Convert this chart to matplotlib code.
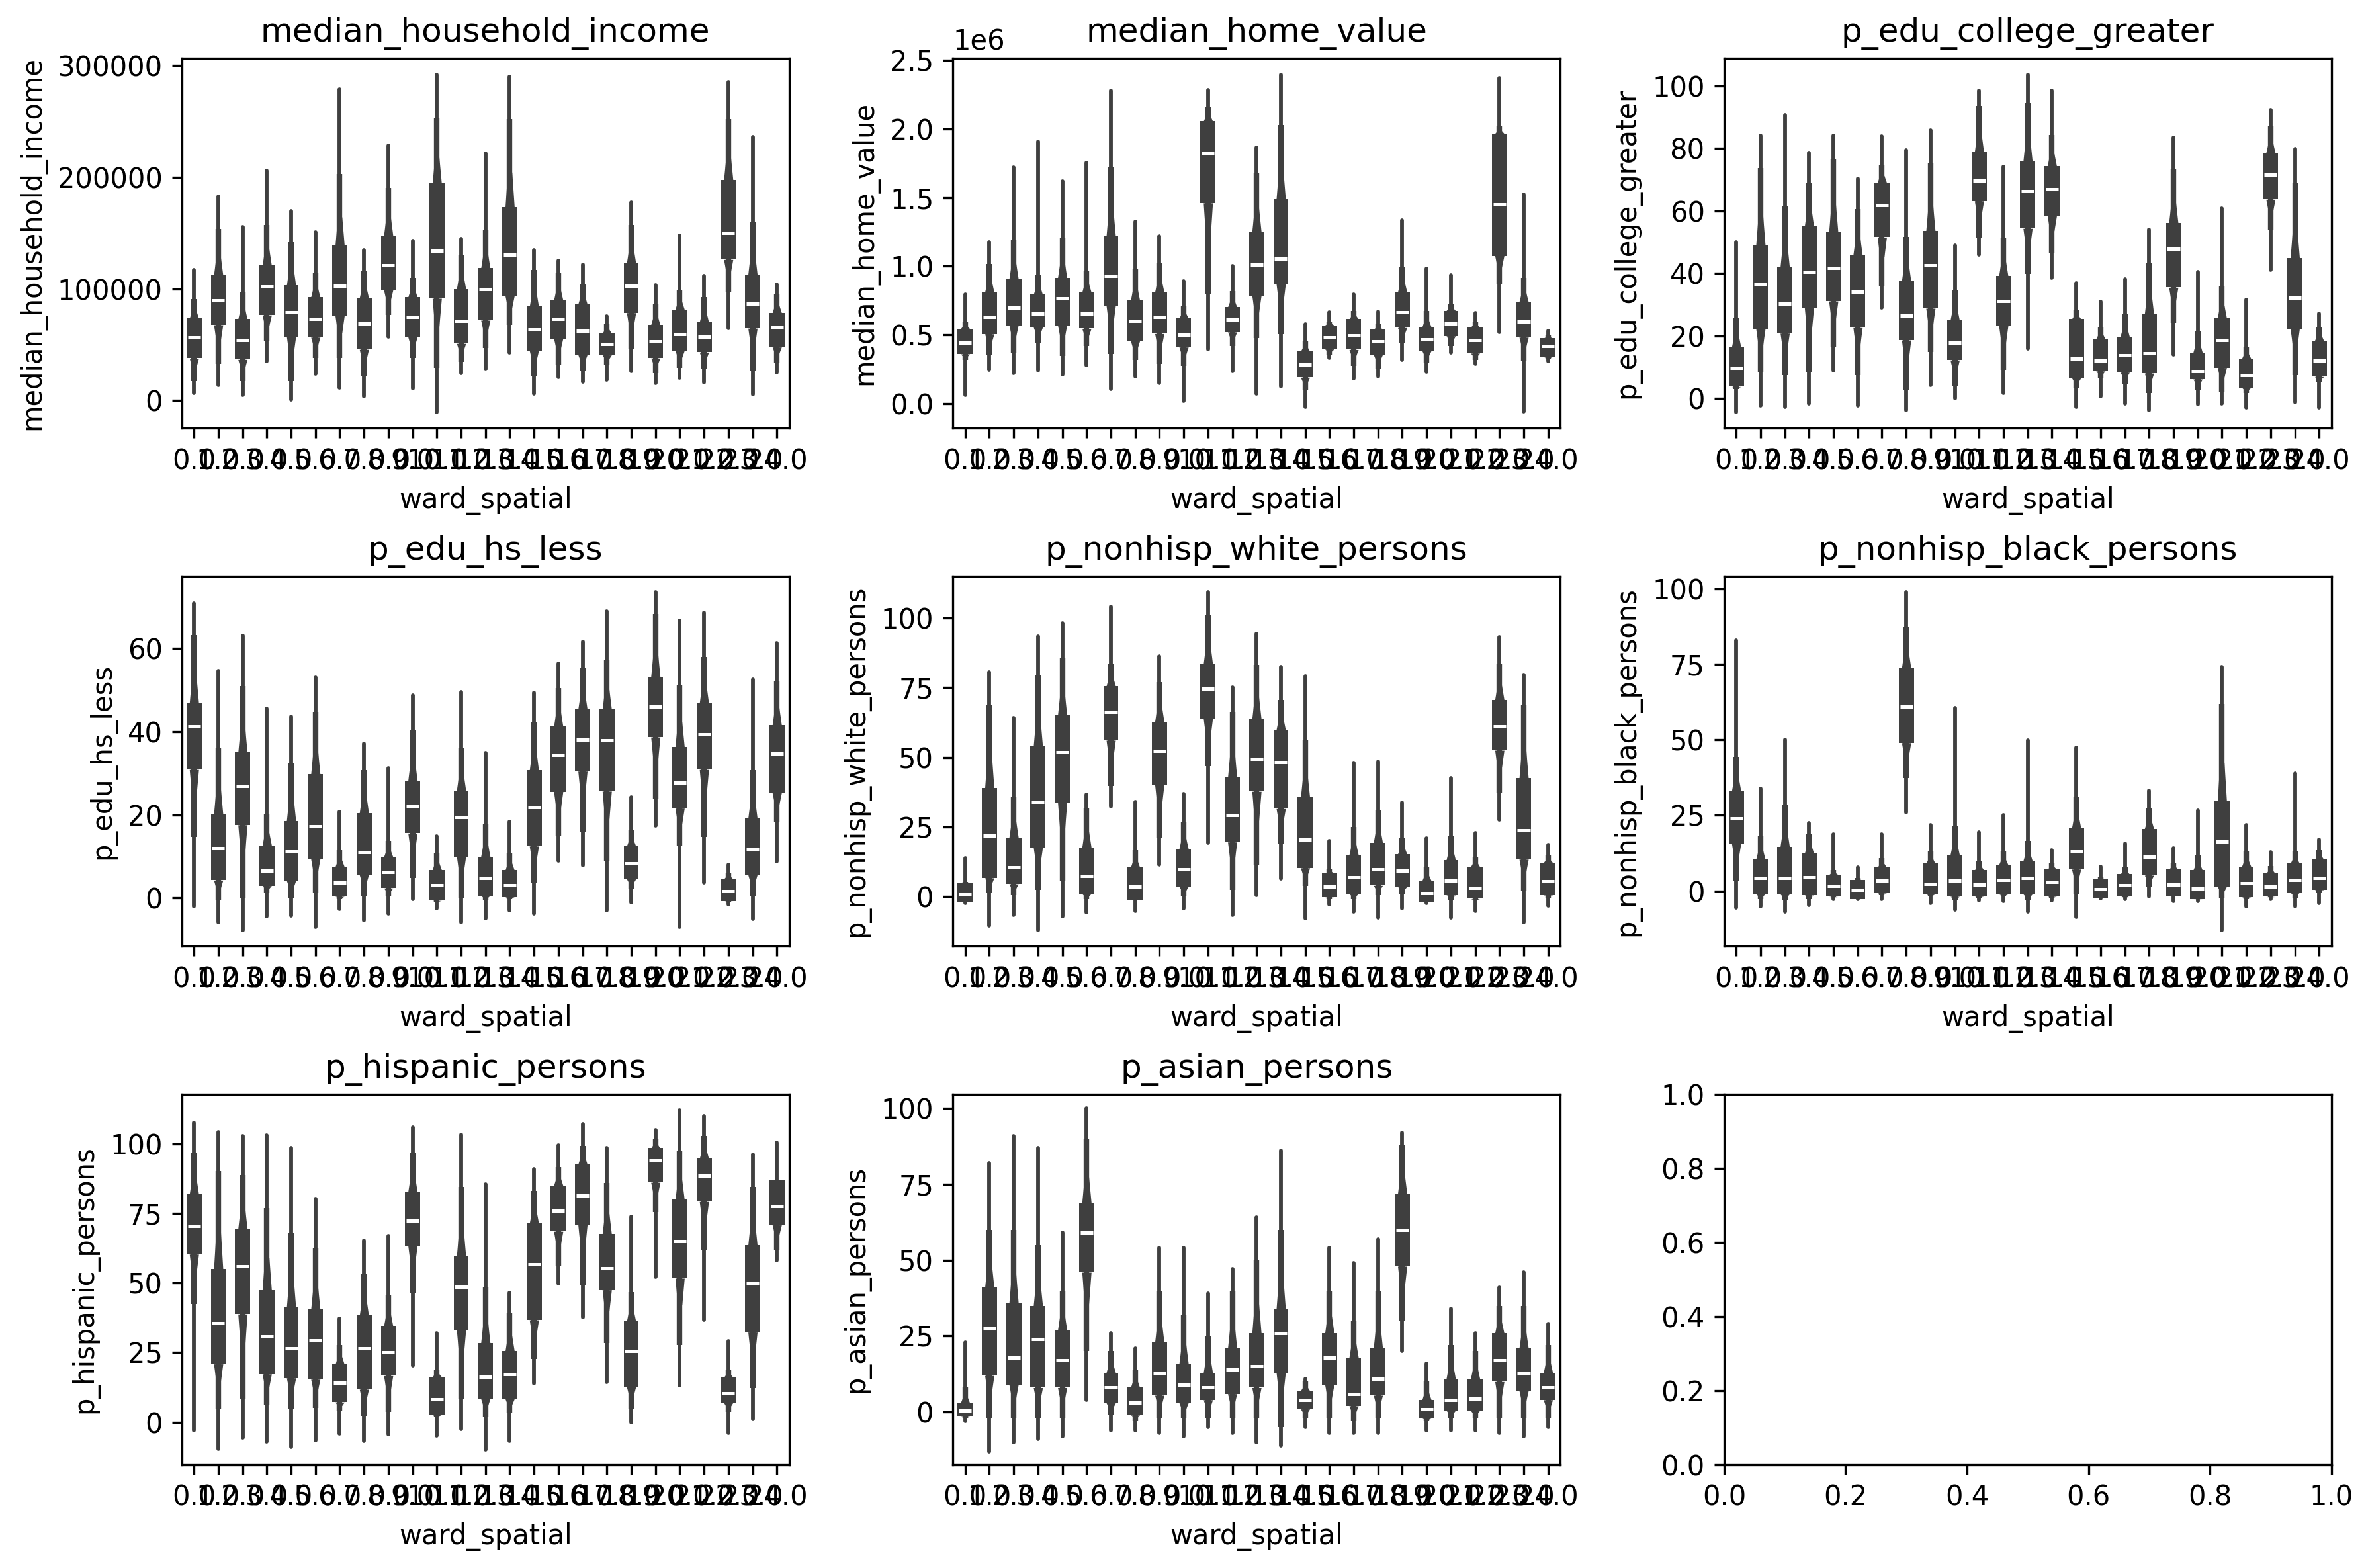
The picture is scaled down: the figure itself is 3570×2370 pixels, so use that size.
import matplotlib
matplotlib.use("Agg")
import matplotlib.pyplot as plt
import numpy as np
from matplotlib.ticker import MultipleLocator

GRAY = "#3f3f3f"

wards = [0.0, 1.0, 2.0, 3.0, 4.0, 5.0, 6.0, 7.0, 8.0, 9.0, 10.0, 11.0, 12.0,
         13.0, 14.0, 15.0, 16.0, 17.0, 18.0, 19.0, 20.0, 21.0, 22.0, 23.0, 24.0]

# per ward: violin tail ends (lo/hi), whisker ends (wlo/whi), quartiles and median
# median_household_income, in thousands
inc_hi = [117, 183, 155.6, 206, 170, 151, 279, 134.7, 228.5, 142.8, 292, 144.7, 221.5, 290, 134.8, 125, 121.5, 75.4, 177.5, 103, 147.7, 111.7, 285.5, 236, 104]
inc_whi = [91, 153.9, 96.8, 157.4, 142, 114, 203, 115.7, 190.3, 110, 252.8, 130, 152.8, 252, 117, 114, 104.6, 69, 157.5, 86.2, 98.5, 92.3, 252.3, 160, 95.4]
inc_q3 = [73.4, 112.3, 72.9, 120.8, 103, 92.6, 138.7, 91.9, 147.7, 92.6, 194.4, 100, 118.5, 173, 84, 89.8, 86.2, 60, 123, 67.7, 81.5, 70.2, 197.8, 113, 78.5]
inc_med = [56.2, 89.6, 53.9, 101.9, 79.2, 73.1, 102.8, 69, 120.8, 74.8, 134.3, 71.3, 99.5, 130.8, 63.7, 72.9, 62.2, 50.2, 102.5, 52.9, 59.1, 56.9, 150.2, 86.8, 65.8]
inc_q1 = [37.7, 67.6, 36.6, 76.4, 57.2, 56.5, 75.9, 45.6, 98.8, 56.7, 91.4, 50.9, 71.8, 93.8, 44.6, 55.4, 40.9, 40.6, 78.5, 37.8, 44.6, 43.1, 126.2, 64.6, 47.7]
inc_wlo = [17.4, 32.9, 17.4, 52.8, 17.4, 37.7, 37.7, 22, 76.4, 37.7, 28.9, 34.7, 47, 67.7, 21.5, 32.3, 26.2, 32.3, 46.2, 24.6, 29.2, 27.7, 97, 26.2, 33.8]
inc_lo = [6.5, 13.9, 4.6, 35.2, 0.5, 23.6, 11.1, 3.5, 56.7, 10.4, -10.9, 24.3, 27.8, 43, 6.2, 20.9, 16.9, 18.5, 26.2, 15.4, 20, 16, 64.6, 5.5, 25.2]

# median_home_value, in millions
home_hi = [0.796, 1.176, 1.72, 1.906, 1.616, 1.752, 2.276, 1.326, 1.216, 0.89, 2.282, 1.0, 1.866, 2.396, 0.576, 0.666, 0.792, 0.67, 1.336, 0.98, 0.932, 0.66, 2.372, 1.522, 0.53]
home_whi = [0.596, 1.016, 1.196, 0.936, 1.206, 0.966, 1.726, 0.976, 1.02, 0.706, 2.156, 0.816, 1.676, 2.026, 0.456, 0.596, 0.676, 0.576, 0.996, 0.676, 0.726, 0.596, 2.016, 0.916, 0.496]
home_q3 = [0.544, 0.81, 0.908, 0.792, 0.916, 0.81, 1.22, 0.75, 0.812, 0.622, 2.056, 0.702, 1.252, 1.49, 0.38, 0.57, 0.616, 0.54, 0.812, 0.556, 0.676, 0.556, 1.966, 0.74, 0.476]
home_med = [0.44, 0.632, 0.696, 0.652, 0.764, 0.652, 0.93, 0.602, 0.628, 0.5, 1.822, 0.612, 1.01, 1.056, 0.284, 0.482, 0.496, 0.452, 0.666, 0.466, 0.584, 0.46, 1.45, 0.596, 0.416]
home_q1 = [0.36, 0.506, 0.57, 0.556, 0.57, 0.546, 0.712, 0.456, 0.508, 0.41, 1.46, 0.52, 0.786, 0.87, 0.19, 0.396, 0.392, 0.356, 0.552, 0.384, 0.492, 0.366, 1.076, 0.482, 0.34]
home_wlo = [0.316, 0.356, 0.366, 0.436, 0.346, 0.416, 0.36, 0.316, 0.286, 0.276, 0.796, 0.416, 0.476, 0.506, 0.096, 0.356, 0.276, 0.256, 0.436, 0.296, 0.416, 0.316, 0.866, 0.306, 0.326]
home_lo = [0.06, 0.246, 0.22, 0.24, 0.212, 0.28, 0.106, 0.196, 0.146, 0.02, 0.392, 0.236, 0.07, 0.126, -0.024, 0.332, 0.18, 0.196, 0.316, 0.232, 0.372, 0.286, 0.52, -0.06, 0.306]

col_hi = [49.9, 84.2, 90.7, 78.6, 84.2, 70.3, 83.9, 79.5, 85.9, 49, 98.6, 74.2, 103.7, 98.6, 36.9, 30.9, 38.2, 54, 83.5, 40.5, 60.8, 31.6, 92.5, 79.9, 27.2]
col_whi = [25.9, 73.8, 61.5, 69, 76.4, 60.6, 74.7, 51.8, 75.5, 34.7, 93.6, 51.4, 94.5, 84.3, 28.1, 22.8, 27.2, 43.4, 73.4, 21.5, 36, 16.6, 87, 69, 22.8]
col_q3 = [16.4, 49.2, 42.1, 55.1, 53.1, 45.9, 69.1, 37.6, 53.6, 25, 78.9, 39.2, 75.9, 74.4, 25.4, 19, 19.7, 27, 56.2, 14.7, 25.6, 12.7, 78.6, 45, 18.4]
col_med = [9.6, 36.4, 30.3, 40.5, 41.7, 34.2, 61.9, 26.5, 42.5, 17.7, 69.8, 31.2, 66.3, 67, 12.7, 12, 13.8, 14.4, 47.8, 8.7, 18.6, 7.3, 71.6, 32.2, 12]
col_q1 = [3.7, 22.2, 20.8, 28.9, 31.1, 22.6, 51.6, 18.6, 28.8, 12.2, 63.2, 23.2, 54.4, 58.4, 6.5, 8.7, 8.3, 8, 35.5, 6.1, 9.8, 3.4, 63.7, 22.3, 6.9]
col_wlo = [3, 8.3, 7.4, 8.3, 16.6, 7.4, 36, 2.6, 14.9, 3.9, 51.4, 9.1, 39.9, 46.5, 3.4, 6.5, 4.7, 1.7, 24.1, 2.6, 2.1, 1.7, 54, 7.4, 5.2]
col_lo = [-4.5, -2.3, -2.7, -1.7, 8.9, -2.3, 29.1, -3.8, 4.3, -0.1, 45.9, 1.7, 15.9, 38.6, -2.7, 0.6, -1.8, -3.8, 14, -2, -1.8, -2.9, 41.2, -1.4, -2.9]

hs_hi = [70.8, 54.7, 63.1, 45.6, 43.6, 53, 20.8, 37.1, 31.3, 48.8, 14.8, 49.5, 34.9, 18.4, 49.4, 56.4, 61.7, 69, 24.3, 73.6, 66.7, 68.6, 8, 52.5, 61.3]
hs_whi = [63.3, 36, 50.9, 20.2, 32.6, 44.8, 11.5, 30.7, 13.8, 40.3, 10.9, 36.1, 17.9, 10.9, 42.2, 50.5, 55.3, 57.3, 16.3, 68.3, 51.2, 57.9, 6.1, 30.7, 52.1]
hs_q3 = [46.9, 20.2, 35, 12.7, 18.6, 29.8, 7.5, 20.5, 9.9, 28.3, 6.8, 25.9, 10, 6.7, 30.7, 41.3, 45.4, 45.4, 12.5, 53.2, 36.4, 46.9, 4.6, 19.2, 41.6]
hs_med = [41.2, 12, 27, 6.6, 11.2, 17.3, 3.8, 11, 6.3, 22.1, 3.1, 19.4, 4.9, 3.1, 21.9, 34.5, 38.1, 38, 8.3, 46.1, 27.8, 39.4, 1.6, 11.8, 34.7]
hs_q1 = [30.9, 4.3, 17.6, 3, 4.2, 9.4, 0.4, 5.6, 2.4, 15.6, -0.6, 10, 0.6, 0.3, 12.5, 25.6, 30.5, 25.7, 4.6, 38.7, 21.6, 30.9, -0.8, 5.6, 25.3]
hs_wlo = [14.7, -0.6, 0, 1.3, 0, 1.3, -0.3, 0.6, 0.6, 4.8, -1, 0, -0.6, -0.3, 3.5, 15, 16, 9, 2.2, 23.7, 12.5, 14.7, -1, 0.6, 18.2]
hs_lo = [-2, -5.8, -7.7, -4.4, -4.2, -6.9, -2.6, -5.4, -3.8, -0.3, -2.4, -5.8, -4.8, -2.9, -3.8, 9, 7.9, -2.9, -1, 17.4, -6.9, 3.7, -1.6, -5.1, 8.8]

wh_hi = [13.8, 80.5, 64.2, 93.4, 98.1, 36.5, 104.1, 34, 86.4, 36.7, 109.4, 75.1, 94.3, 82.6, 79.1, 19.8, 48, 48.4, 33.8, 20.9, 42.4, 22.7, 93.3, 79.7, 18.4]
wh_whi = [5.2, 68.7, 35.9, 79.3, 85.5, 31.9, 83.7, 16.6, 77.1, 26.7, 101, 66.3, 83.3, 70.7, 56.3, 9.9, 24.8, 31, 20.9, 10.4, 21.9, 14.2, 83.6, 68.7, 14.7]
wh_q3 = [4.7, 38.9, 21.2, 53.9, 65.2, 17.6, 75.6, 10.4, 62.8, 17.1, 83.6, 42.7, 63.8, 59.9, 35.5, 8.2, 14.9, 19.3, 15.2, 5.6, 13.1, 10.6, 70.7, 42.4, 12.1]
wh_med = [0.9, 21.7, 10.4, 34, 51.7, 7.4, 66.3, 3.5, 52.3, 9.8, 74.6, 29.3, 49.4, 48.2, 20.5, 3.5, 6.9, 9.7, 9.2, 1.1, 5.6, 3.1, 61.1, 23.8, 5.4]
wh_q1 = [-2.3, 6.6, 4.4, 17.6, 33.8, 0.9, 56.1, -1.2, 40.1, 3.5, 63.9, 19.5, 37.7, 31.5, 10.2, -0.4, 0.9, 3.9, 3.5, -2.3, 0.4, -0.9, 52.5, 13.3, 0.4]
wh_wlo = [-2.3, 1.3, 0.4, 2.3, 5.6, -1.1, 39.6, -1.5, 20.9, -0.1, 46.7, 2.3, 11.4, 19, 3.7, -1.1, -1.1, 0.4, 0.9, -2.3, -1.5, -1.5, 37.2, 1.8, -0.6]
wh_lo = [-2.5, -10.6, -6.8, -12.2, -7.3, -5.8, 32.4, -5.4, 11.4, -4.4, 19.3, -6.8, 0.4, 6.3, -8, -3, -5.5, -7.7, -4.4, -2.5, -7.7, -5.4, 27.6, -9.4, -3.3]

bl_hi = [82.8, 33.9, 50, 22.5, 18.8, 7.8, 18.8, 98.9, 21.9, 60.6, 19.5, 25, 49.8, 13.4, 47.4, 8.1, 15.7, 33.3, 14.2, 26.7, 74.2, 21.9, 12.8, 38.9, 17.1]
bl_whi = [44.3, 18.4, 28.5, 18.8, 6.9, 4.3, 10.9, 87.4, 13.1, 21.5, 10, 13.1, 16.6, 9.1, 31.1, 4.7, 7.8, 27.6, 9.1, 11.8, 61.9, 13.1, 8.3, 13.1, 13.5]
bl_q3 = [33.1, 10.5, 14.7, 12.5, 5.4, 3.6, 7.8, 73.8, 9.1, 12, 6.9, 8.7, 10, 7.2, 20.8, 4, 5.6, 20.6, 7.2, 6.9, 29.6, 8.1, 5.8, 9.1, 10.4]
bl_med = [23.9, 4.3, 4.3, 4.6, 1.7, 0.4, 3.4, 61, 2.4, 3.4, 2.1, 3.7, 4.3, 3, 13, 0.5, 1.9, 11.3, 2.1, 0.8, 16.4, 2.6, 1.5, 3.6, 4.4]
bl_q1 = [15.7, -1, -1, -1.4, -1.9, -2.6, -0.7, 49, -1, -1.8, -1.8, -1, -1, -1.8, 7.2, -2.3, -1.9, 5.2, -1.6, -2.6, 1.5, -2, -1.9, -0.5, 0.4]
bl_wlo = [3.4, -2.7, -3.2, -2.7, -2.1, -2.6, -1.4, 37.3, -1.8, -3.2, -2.3, -1.8, -3.2, -2.3, -1, -2.3, -2.1, 1.2, -1.8, -2.7, -2.3, -2.7, -2.1, -2.3, -0.5]
bl_lo = [-5.6, -5.1, -6.9, -4.7, -2.7, -2.7, -2.7, 25.9, -3.9, -6.2, -3.2, -3.3, -6.9, -3.2, -8.6, -2.5, -2.7, -1.8, -3.3, -3.3, -13, -5.1, -2.7, -5.1, -4]

hi_hi = [107.5, 104.1, 102.7, 102.9, 98.6, 80.2, 37.1, 65.2, 67, 105.8, 31.9, 103.2, 85.5, 46.4, 90.9, 99.5, 107, 98.6, 73.8, 104.9, 112, 109.9, 29.2, 96, 100.3]
hi_whi = [96.5, 90.2, 88.8, 76.8, 68.2, 62.5, 27.6, 53.4, 45.7, 96.9, 18.9, 84.5, 48.6, 39, 83.1, 91.7, 99.3, 85.9, 46.7, 101.7, 97.4, 102.7, 18.9, 84.5, 86.9]
hi_q3 = [81.9, 55, 69.5, 47.4, 41.2, 40.5, 20.7, 38.3, 34.5, 82.8, 16.3, 59.6, 28.5, 25.5, 71.4, 85, 92.6, 67.6, 36.2, 98.4, 79.9, 94.7, 16.1, 63.6, 86.9]
hi_med = [70.4, 35.6, 56, 30.7, 26.6, 29.3, 14.2, 26.6, 25, 72.3, 8.2, 48.6, 16.4, 17.2, 56.6, 76, 81.3, 55.3, 25.6, 93.9, 64.9, 88.5, 10.3, 50, 77.6]
hi_q1 = [60.3, 20.9, 38.8, 17.3, 15.9, 15.4, 7.2, 11.8, 16.7, 63.3, 2.7, 33.1, 8.4, 8.4, 36.7, 68.5, 70.9, 47.5, 12.7, 86.1, 51.7, 79.2, 7, 32.3, 70.8]
hi_wlo = [42.4, 4.6, 8.4, 6, 4.6, 5.1, 4.1, 2.2, 3.6, 46.2, 1.7, 8.4, 1.7, 3.2, 22.8, 56.3, 49.1, 28.5, 4.6, 75.4, 27.6, 62, 3.6, 12.2, 62]
hi_lo = [-2.9, -9.6, -5.5, -7.1, -8.8, -6.4, -4.2, -6.7, -4.3, 20.4, -4.8, -2.4, -9.8, -6.7, 14, 49.8, 37.6, 14.4, 0, 52.2, 13.2, 36.7, -4, 1, 58]

as_hi = [23, 82, 91, 87, 59, 100, 26, 21, 54, 54, 39, 47, 64, 86, 11, 54, 49, 57, 92, 16, 34, 26, 41, 46, 29]
as_whi = [8, 60, 60, 55, 40, 90, 20, 14, 40, 32, 25, 40, 50, 60, 10, 40, 30, 40, 88, 10, 22, 20, 35, 35, 22]
as_q3 = [3, 41, 36, 35, 27, 69, 13, 8, 23, 16, 13, 21, 26, 34, 7, 26, 18, 21, 72, 4, 11, 11, 26, 21, 13]
as_med = [0.5, 27.5, 18, 24, 17, 59, 8, 3, 13, 9, 8, 14, 15, 26, 4, 18, 6, 11, 60, 1, 4, 4.5, 17, 13, 8]
as_q1 = [-1.5, 12, 9, 8, 8, 46, 3, -1, 5.5, 3, 4, 6, 8, 13, 1, 9, 2, 5.5, 48, -2, 0.5, 0.5, 10, 7, 4]
as_wlo = [-2, -2, -2, -2, -2, 20, -1, -3, -2, -2, -2, -2, -2, -5, -2, -2, -3, -2, 30, -3, -2, -2, -2, -2, -2]
as_lo = [-3, -13, -10, -9, -8, 4, -6, -6, -7, -8, -5, -7, -10, -11, -5, -7, -7, -7, 20, -6, -6, -6, -7, -8, -5]

panels = [
    ("median_household_income", 1e3, (inc_lo, inc_wlo, inc_q1, inc_med, inc_q3, inc_whi, inc_hi), (-25000, 307000), 100000),
    ("median_home_value", 1e6, (home_lo, home_wlo, home_q1, home_med, home_q3, home_whi, home_hi), (-0.18e6, 2.516e6), 0.5e6),
    ("p_edu_college_greater", 1, (col_lo, col_wlo, col_q1, col_med, col_q3, col_whi, col_hi), (-9.6, 109), 20),
    ("p_edu_hs_less", 1, (hs_lo, hs_wlo, hs_q1, hs_med, hs_q3, hs_whi, hs_hi), (-11.6, 77.4), 20),
    ("p_nonhisp_white_persons", 1, (wh_lo, wh_wlo, wh_q1, wh_med, wh_q3, wh_whi, wh_hi), (-18, 115.1), 25),
    ("p_nonhisp_black_persons", 1, (bl_lo, bl_wlo, bl_q1, bl_med, bl_q3, bl_whi, bl_hi), (-18.3, 104.1), 25),
    ("p_hispanic_persons", 1, (hi_lo, hi_wlo, hi_q1, hi_med, hi_q3, hi_whi, hi_hi), (-15.2, 117.7), 25),
    ("p_asian_persons", 1, (as_lo, as_wlo, as_q1, as_med, as_q3, as_whi, as_hi), (-17.3, 104.6), 25),
]


def draw_violins(ax, stats, scale):
    lo, wlo, q1, med, q3, whi, hi = [np.array(s) * scale for s in stats]
    x = np.arange(len(wards))
    # thin violin tails
    ax.vlines(x, lo, hi, color=GRAY, lw=1.4, capstyle="round")
    # whiskers
    ax.vlines(x, wlo, whi, color=GRAY, lw=2.0)
    # violin body widening towards the box
    for i in x:
        y_lo = q1[i] - 0.4 * (q1[i] - wlo[i])
        y_hi = q3[i] + 0.4 * (whi[i] - q3[i])
        ax.fill_betweenx([y_lo, q1[i]], [i - 0.09, i - 0.19], [i + 0.09, i + 0.19], color=GRAY, lw=0)
        ax.fill_betweenx([q3[i], y_hi], [i - 0.19, i - 0.09], [i + 0.19, i + 0.09], color=GRAY, lw=0)
    ax.bar(x, q3 - q1, bottom=q1, width=0.62, color=GRAY, lw=0)
    ax.hlines(med, x - 0.26, x + 0.26, color="white", lw=1.2)


fig, axes = plt.subplots(3, 3, figsize=(11.9, 7.9))
axes = axes.flatten()

for ax, (name, scale, stats, ylim, step) in zip(axes, panels):
    draw_violins(ax, stats, scale)
    ax.set_xticks(np.arange(len(wards)))
    ax.set_xticklabels([f"{w:.1f}" for w in wards])
    ax.set_xlim(-0.5, len(wards) - 0.5)
    ax.set_ylim(*ylim)
    ax.yaxis.set_major_locator(MultipleLocator(step))
    ax.set_title(name)
    ax.set_ylabel(name)
    ax.set_xlabel("ward_spatial")

plt.subplots_adjust(left=0.077, right=0.987, top=0.963, bottom=0.066, wspace=0.27, hspace=0.40)
plt.savefig("out.png", dpi=300)
